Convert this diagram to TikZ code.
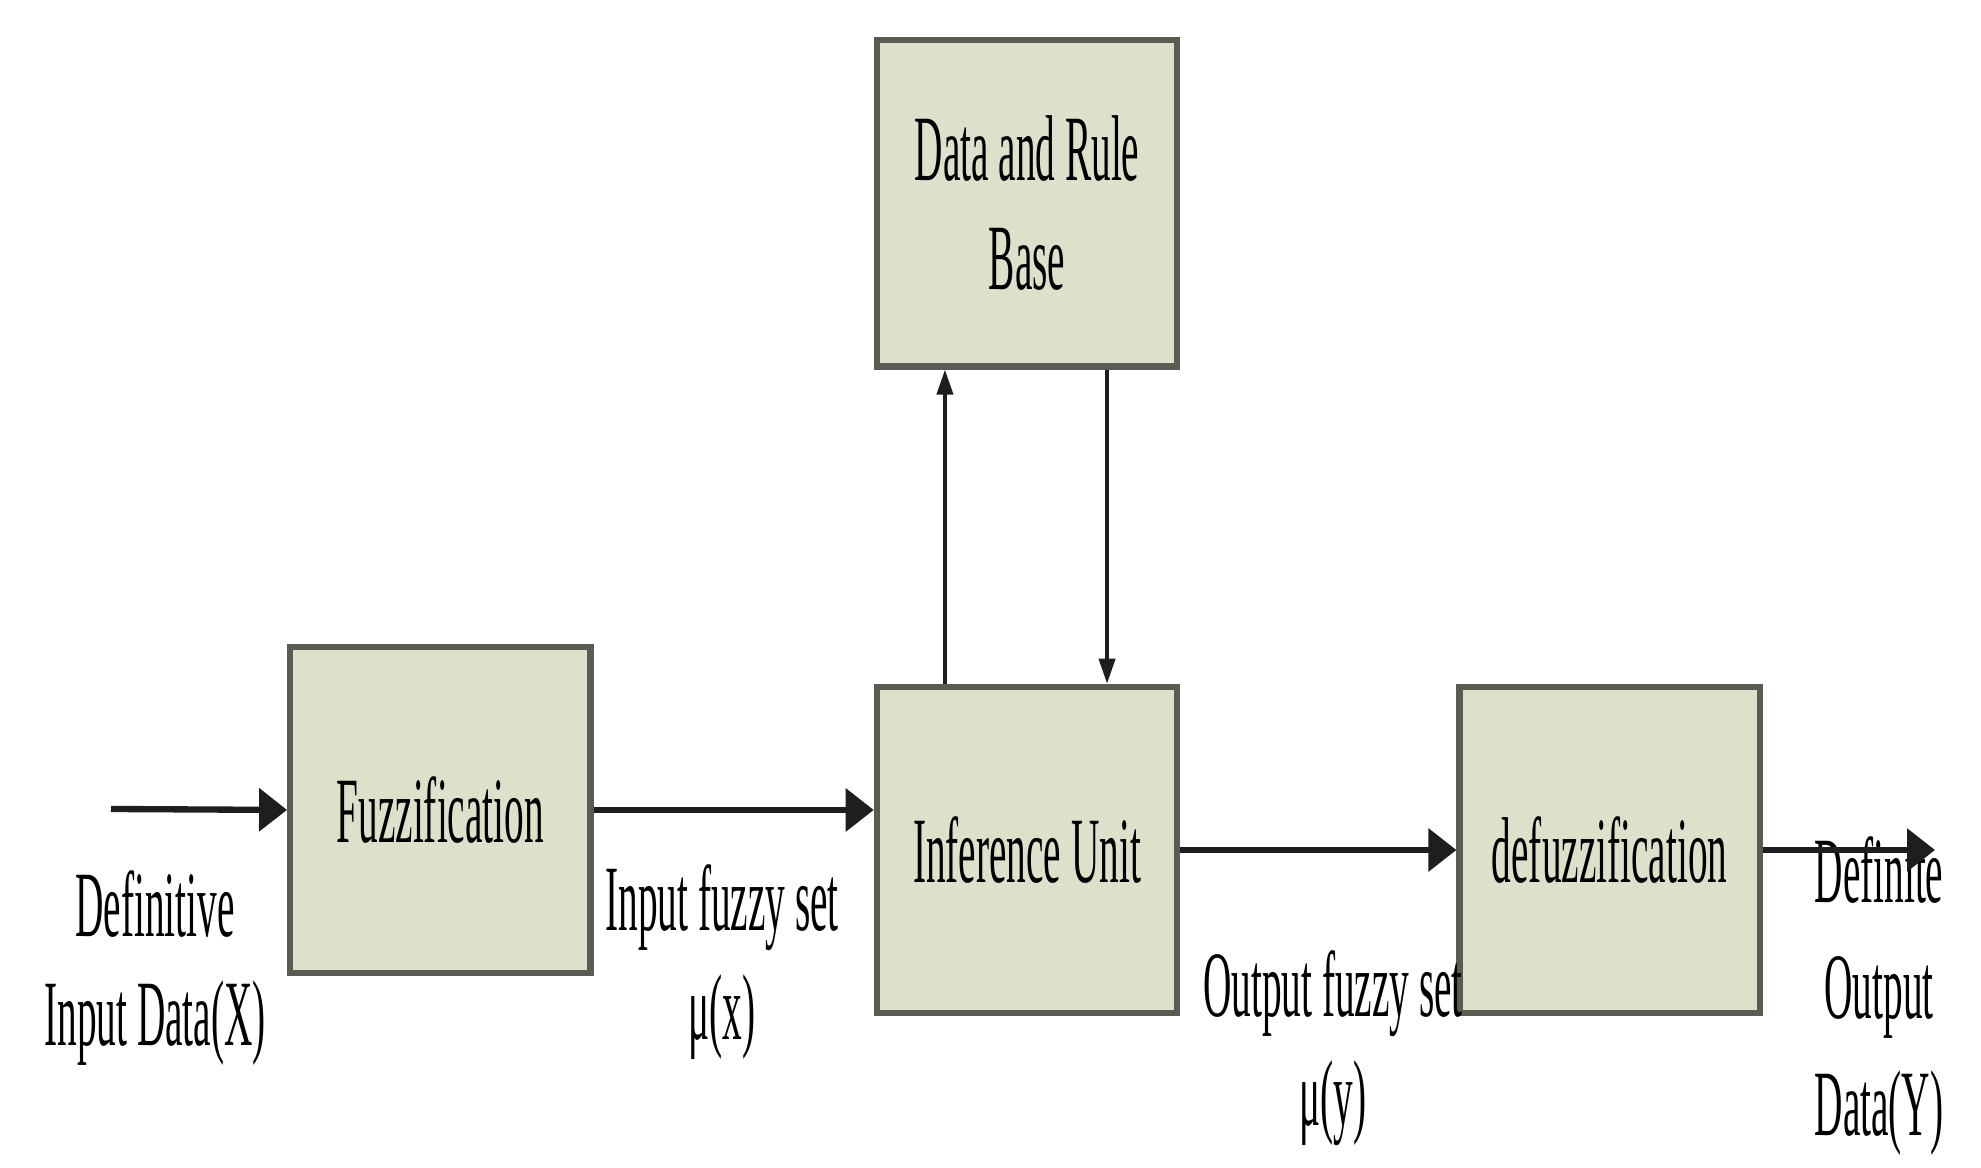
\documentclass[tikz,border=0pt]{standalone}
\usepackage{fontspec}
\usepackage{xcolor}
\usepackage{tikz}
\usetikzlibrary{arrows.meta, positioning}
\newfontfamily\estreita[FakeStretch=0.42]{Liberation Serif}
\definecolor{fundobloco}{RGB}{221,225,203}
\definecolor{bordabloco}{RGB}{88,92,82}
\definecolor{linha}{RGB}{30,30,30}

\begin{document}
\begin{tikzpicture}[
        x=0.01cm, y=-0.01cm,
        node distance=3.14cm and 2.76cm,
        font=\estreita\fontsize{26.6pt}{31pt}\selectfont,
        bloco/.style={rectangle, draw=bordabloco, line width=1.8pt, fill=fundobloco, minimum width=3.0cm, minimum height=3.26cm, align=center, inner sep=0pt},
        flecha/.style={draw=linha, line width=1.8pt, -{Triangle[length=0.28cm, width=0.42cm]}},
        flechafina/.style={draw=linha, line width=1.1pt, -{Triangle[length=0.25cm, width=0.16cm]}},
        rotulo/.style={align=center, inner sep=0pt}
    ]
        \useasboundingbox (0,0) rectangle (1981,1168);

        % Blocos
        \node[bloco] (infer) at (1027,850) {Inference Unit};
        \node[bloco, above=of infer] (regras) {Data and Rule\\Base};
        \node[bloco, right=of infer] (defuzz) {defuzzification};
        \node[bloco, left=2.8cm of infer, yshift=0.4cm] (fuzz) {Fuzzification};

        % Pontas livres
        \coordinate (entrada) at (111,809);
        \coordinate (saida) at (1935,850);

        % Rótulos
        \node[rotulo] (lblin) at (155,968) {Definitive\\Input Data(X)};
        \node[rotulo] (lblfx) at (722,962) {Input fuzzy set\\μ(x)};
        \node[rotulo] (lblfy) at (1333,1048) {Output fuzzy set\\μ(y)};
        \node[rotulo, font=\estreita\fontsize{26.6pt}{33pt}\selectfont] (lblout) at (1879,996) {Definite\\Output\\Data(Y)};

        % Conexões
        \draw[flecha] (entrada) -- (fuzz.west);
        \draw[flecha] (fuzz.east) -- (fuzz.east -| infer.west);
        \draw[flecha] (infer) -- (defuzz);
        \draw[flecha] (defuzz) -- (saida);
        \draw[flechafina] ([xshift=-0.82cm]infer.north) -- ([xshift=-0.82cm]regras.south);
        \draw[flechafina] ([xshift=0.8cm]regras.south) -- ([xshift=0.8cm]infer.north);
    \end{tikzpicture}
\end{document}
